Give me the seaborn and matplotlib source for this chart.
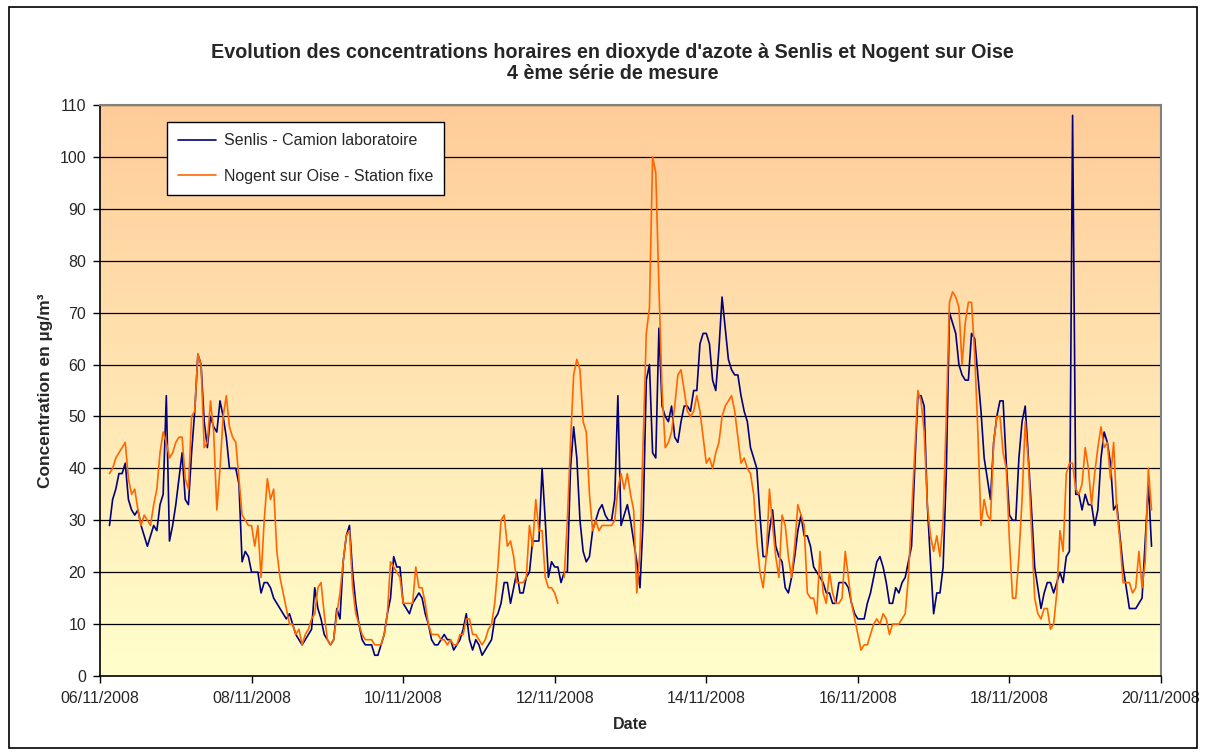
import numpy as np
import pandas as pd
import seaborn as sns
import matplotlib.pyplot as plt
from matplotlib.lines import Line2D
from matplotlib.patches import Rectangle

# hourly NO2 concentrations (µg/m3), one list of 24 hours per day, 06/11 -> 19/11
senlis_days = [
    [np.nan, np.nan, np.nan, 29, 34, 36, 39, 39, 41, 34, 32, 31, 32, 29, 27, 25, 27, 29, 28, 33, 35, 54, 26, 29],
    [33, 38, 43, 34, 33, 43, 51, 62, 60, 49, 44, 50, 48, 47, 53, 50, 46, 40, 40, 40, 37, 22, 24, 23],
    [20, 20, 20, 16, 18, 18, 17, 15, 14, 13, 12, 11, 12, 10, 8, 7, 6, 7, 8, 9, 17, 13, 11, 8],
    [7, 6, 7, 13, 11, 22, 27, 29, 20, 14, 10, 7, 6, 6, 6, 4, 4, 6, 8, 12, 15, 23, 21, 21],
    [14, 13, 12, 14, 15, 16, 15, 12, 10, 7, 6, 6, 7, 8, 7, 7, 5, 6, 7, 9, 12, 7, 5, 7],
    [6, 4, 5, 6, 7, 11, 12, 14, 18, 18, 14, 17, 20, 16, 16, 19, 20, 26, 26, 26, 40, 30, 19, 22],
    [21, 21, 18, 20, 20, 40, 48, 42, 30, 24, 22, 23, 28, 30, 32, 33, 31, 30, 30, 34, 54, 29, 31, 33],
    [30, 26, 22, 17, 30, 57, 60, 43, 42, 67, 52, 50, 49, 52, 46, 45, 49, 52, 52, 51, 55, 55, 64, 66],
    [66, 64, 57, 55, 63, 73, 67, 61, 59, 58, 58, 54, 51, 49, 44, 42, 40, 31, 23, 23, 28, 32, 25, 23],
    [22, 17, 16, 19, 23, 28, 31, 27, 27, 25, 21, 20, 19, 18, 16, 16, 14, 14, 18, 18, 18, 17, 14, 12],
    [11, 11, 11, 14, 16, 19, 22, 23, 21, 18, 14, 14, 17, 16, 18, 19, 22, 25, 40, 54, 54, 52, 33, 22],
    [12, 16, 16, 21, 39, 70, 68, 66, 60, 58, 57, 57, 66, 65, 58, 51, 42, 38, 34, 45, 50, 53, 53, 41],
    [31, 30, 30, 42, 49, 52, 42, 32, 21, 17, 13, 16, 18, 18, 16, 18, 20, 18, 23, 24, 108, 35, 35, 32],
    [35, 33, 33, 29, 32, 42, 47, 45, 41, 32, 33, 27, 21, 17, 13, 13, 13, 14, 15, 26, 37, 25, np.nan, np.nan],
]

nogent_days = [
    [np.nan, np.nan, np.nan, 39, 40, 42, 43, 44, 45, 38, 35, 36, 32, 29, 31, 30, 29, 33, 36, 43, 47, 45, 42, 43],
    [45, 46, 46, 38, 36, 50, 51, 62, 60, 44, 45, 53, 47, 32, 40, 50, 54, 48, 46, 45, 38, 31, 30, 29],
    [29, 25, 29, 19, 30, 38, 34, 36, 24, 19, 16, 13, 10, 10, 8, 9, 6, 8, 9, 11, 12, 17, 18, 12],
    [7, 6, 7, 12, 16, 22, 27, 28, 17, 12, 10, 8, 7, 7, 7, 6, 6, 6, 8, 12, 22, 21, 20, 19],
    [14, 14, 14, 14, 21, 17, 17, 14, 10, 8, 8, 8, 7, 7, 6, 7, 6, 6, 8, 8, 11, 11, 8, 8],
    [7, 6, 7, 9, 10, 14, 21, 30, 31, 25, 26, 23, 18, 18, 18, 19, 29, 25, 34, 28, 28, 19, 17, 17],
    [16, 14, np.nan, 19, 30, 45, 58, 61, 59, 49, 47, 35, 28, 30, 28, 29, 29, 29, 29, 30, 36, 39, 36, 39],
    [35, 32, 16, 24, 45, 66, 71, 100, 97, 75, 55, 44, 45, 47, 52, 58, 59, 55, 51, 50, 51, 54, 51, 46],
    [41, 42, 40, 43, 45, 50, 52, 53, 54, 51, 46, 41, 42, 40, 39, 35, 26, 20, 17, 23, 36, 29, 23, 19],
    [31, 29, 23, 19, 25, 33, 31, 29, 16, 15, 15, 12, 24, 16, 14, 20, 16, 14, 14, 15, 24, 19, 14, 11],
    [8, 5, 6, 6, 8, 10, 11, 10, 12, 11, 8, 10, 10, 10, 11, 12, 19, 31, 43, 55, 53, 47, 33, 27],
    [24, 27, 23, 30, 50, 72, 74, 73, 71, 60, 68, 72, 72, 62, 47, 29, 34, 31, 30, 45, 50, 50, 43, 40],
    [26, 15, 15, 23, 34, 49, 41, 28, 15, 12, 11, 13, 13, 9, 10, 16, 28, 24, 39, 41, 41, 36, 35, 37],
    [44, 40, 33, 39, 44, 48, 44, 45, 38, 45, 32, 26, 18, 18, 18, 16, 17, 24, 17, 22, 40, 32, np.nan, np.nan],
]

series_names = ["Senlis - Camion laboratoire", "Nogent sur Oise - Station fixe"]
series_colors = ["#000080", "#FF6600"]
date_labels = ["06/11/2008", "08/11/2008", "10/11/2008", "12/11/2008",
               "14/11/2008", "16/11/2008", "18/11/2008", "20/11/2008"]

senlis = [v for day in senlis_days for v in day]
nogent = [v for day in nogent_days for v in day]
hours = np.arange(len(senlis))

df = pd.DataFrame({"hour": hours, series_names[0]: senlis, series_names[1]: nogent})
long = df.melt(id_vars="hour", var_name="serie", value_name="conc")
# a missing hour starts a new segment, so the line breaks there
long["seg"] = long.groupby("serie")["conc"].transform(lambda s: s.isna().cumsum())
long = long.dropna()

sns.set_style("white")
plt.rcParams["font.family"] = ["Liberation Sans", "DejaVu Sans"]

fig = plt.figure(figsize=(12.06, 7.55), dpi=100)
ax = fig.add_axes([100 / 1206, 1 - 676 / 755, 1061 / 1206, 571 / 755])

# gradient background of the plot area
grad = np.linspace(0, 1, 256).reshape(-1, 1)
top = np.array([255, 204, 153]) / 255
bottom = np.array([255, 255, 204]) / 255
img = top + (bottom - top) * grad[:, :, None]
ax.imshow(img, extent=[0, 1, 0, 1], transform=ax.transAxes, aspect="auto", zorder=0)

for y in range(10, 111, 10):
    ax.axhline(y, color="black", lw=0.9, zorder=1)

sns.lineplot(data=long, x="hour", y="conc", hue="serie", units="seg", estimator=None,
             palette=dict(zip(series_names, series_colors)), lw=1.2, legend=False,
             ax=ax, zorder=3)

ax.set_xlim(0, 336)
ax.set_ylim(0, 110)
ax.set_xticks(np.arange(0, 337, 48))
ax.set_xticklabels(date_labels)
ax.set_yticks(np.arange(0, 111, 10))
ax.tick_params(axis="both", direction="out", length=5, width=1, color="black",
               labelsize=11.5, bottom=True, left=True)
ax.tick_params(axis="x", pad=6)
ax.tick_params(axis="y", pad=5)

for side in ["left", "bottom"]:
    ax.spines[side].set_color("black")
    ax.spines[side].set_linewidth(1.2)
for side in ["top", "right"]:
    ax.spines[side].set_color("#808080")
    ax.spines[side].set_linewidth(1.5)

ax.set_xlabel("Date", fontsize=11.5, fontweight="bold", labelpad=8)
ax.set_ylabel("Concentration en µg/m³", fontsize=12.5, fontweight="bold", labelpad=5)

handles = [Line2D([], [], color=c, lw=1.2) for c in series_colors]
leg = ax.legend(handles, series_names, loc="upper left", bbox_to_anchor=(0.063, 0.97),
                borderaxespad=0, frameon=True, fancybox=False, shadow=False,
                edgecolor="black", framealpha=1, fontsize=11.5, borderpad=0.7,
                labelspacing=1.3, handlelength=2.4, handletextpad=0.45)
leg.get_frame().set_linewidth(1.0)
leg.set_zorder(5)

fig.text(0.508, 0.9165,
         "Evolution des concentrations horaires en dioxyde d'azote à Senlis et Nogent sur Oise\n"
         "4 ème série de mesure",
         ha="center", va="center", fontsize=14.2, fontweight="bold", linespacing=1.1)

fig.patches.append(Rectangle((9 / 1206, 7 / 755), 1188 / 1206, 741 / 755,
                             transform=fig.transFigure, fill=False,
                             edgecolor="black", lw=1.2))

fig.savefig("out.png", dpi=100)
